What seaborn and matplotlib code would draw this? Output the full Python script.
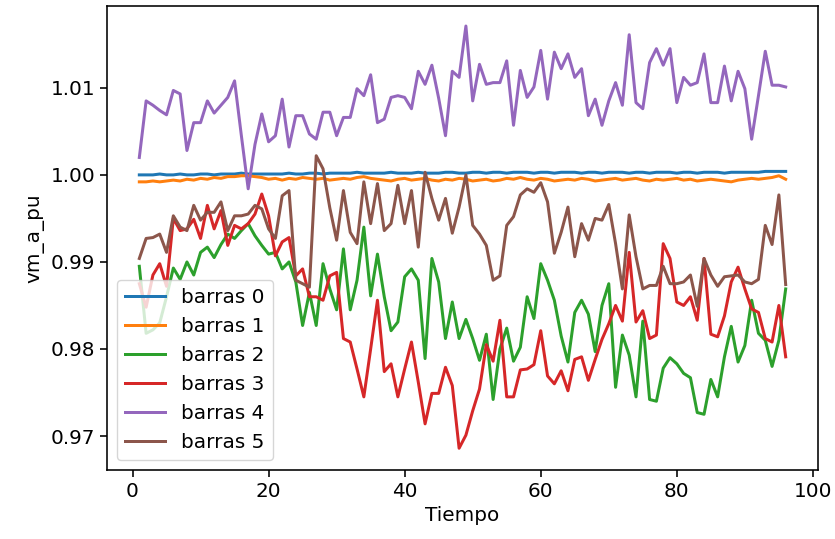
import numpy as np
import matplotlib
matplotlib.use("Agg")
import matplotlib.pyplot as plt
import seaborn as sns

tiempo = np.arange(1, 97)

barras_0 = [1.0000, 1.0000, 1.0000, 1.0001, 1.0000, 1.0000, 1.0001, 1.0000, 1.0000, 1.0001,
            1.0001, 1.0000, 1.0001, 1.0001, 1.0001, 1.0002, 1.0001, 1.0001, 1.0001, 1.0001,
            1.0001, 1.0001, 1.0002, 1.0001, 1.0001, 1.0002, 1.0002, 1.0001, 1.0002, 1.0002,
            1.0002, 1.0002, 1.0003, 1.0002, 1.0002, 1.0002, 1.0002, 1.0003, 1.0002, 1.0002,
            1.0002, 1.0003, 1.0002, 1.0002, 1.0002, 1.0003, 1.0003, 1.0002, 1.0002, 1.0003,
            1.0003, 1.0002, 1.0003, 1.0003, 1.0002, 1.0003, 1.0003, 1.0003, 1.0002, 1.0003,
            1.0003, 1.0002, 1.0003, 1.0003, 1.0003, 1.0002, 1.0003, 1.0003, 1.0002, 1.0003,
            1.0003, 1.0003, 1.0002, 1.0003, 1.0003, 1.0002, 1.0003, 1.0003, 1.0003, 1.0002,
            1.0003, 1.0003, 1.0002, 1.0003, 1.0003, 1.0003, 1.0002, 1.0003, 1.0003, 1.0003,
            1.0003, 1.0003, 1.0004, 1.0004, 1.0004, 1.0004]

barras_1 = [0.9992, 0.9992, 0.9993, 0.9992, 0.9993, 0.9994, 0.9993, 0.9995, 0.9994, 0.9996,
            0.9995, 0.9997, 0.9996, 0.9998, 0.9998, 0.9999, 0.9999, 0.9998, 0.9997, 0.9995,
            0.9996, 0.9994, 0.9996, 0.9995, 0.9997, 0.9996, 0.9995, 0.9996, 0.9994, 0.9995,
            0.9996, 0.9995, 0.9997, 0.9998, 0.9996, 0.9995, 0.9994, 0.9993, 0.9995, 0.9996,
            0.9994, 0.9995, 0.9996, 0.9994, 0.9993, 0.9995, 0.9994, 0.9996, 0.9995, 0.9993,
            0.9994, 0.9995, 0.9993, 0.9994, 0.9996, 0.9995, 0.9997, 0.9995, 0.9994, 0.9996,
            0.9995, 0.9993, 0.9994, 0.9995, 0.9994, 0.9996, 0.9995, 0.9993, 0.9994, 0.9995,
            0.9996, 0.9994, 0.9995, 0.9996, 0.9994, 0.9993, 0.9995, 0.9994, 0.9995, 0.9996,
            0.9994, 0.9995, 0.9993, 0.9994, 0.9995, 0.9994, 0.9993, 0.9992, 0.9994, 0.9995,
            0.9996, 0.9995, 0.9996, 0.9997, 0.9999, 0.9995]

barras_2 = [0.9895, 0.9818, 0.9822, 0.9830, 0.9860, 0.9893, 0.9880, 0.9900, 0.9885, 0.9911,
            0.9917, 0.9905, 0.9920, 0.9932, 0.9927, 0.9936, 0.9944, 0.9930, 0.9919, 0.9909,
            0.9911, 0.9892, 0.9900, 0.9877, 0.9827, 0.9865, 0.9827, 0.9898, 0.9869, 0.9845,
            0.9915, 0.9845, 0.9879, 0.9940, 0.9861, 0.9909, 0.9860, 0.9821, 0.9831, 0.9883,
            0.9892, 0.9879, 0.9789, 0.9904, 0.9877, 0.9812, 0.9854, 0.9812, 0.9834, 0.9812,
            0.9787, 0.9817, 0.9742, 0.9800, 0.9824, 0.9786, 0.9802, 0.9860, 0.9835, 0.9898,
            0.9879, 0.9856, 0.9815, 0.9785, 0.9842, 0.9856, 0.9840, 0.9797, 0.9850, 0.9875,
            0.9756, 0.9816, 0.9793, 0.9745, 0.9832, 0.9742, 0.9740, 0.9778, 0.9790, 0.9783,
            0.9772, 0.9767, 0.9727, 0.9725, 0.9765, 0.9745, 0.9791, 0.9826, 0.9785, 0.9804,
            0.9856, 0.9818, 0.9810, 0.9780, 0.9810, 0.9869]

barras_3 = [0.9875, 0.9848, 0.9885, 0.9898, 0.9872, 0.9950, 0.9936, 0.9938, 0.9949, 0.9927,
            0.9965, 0.9938, 0.9959, 0.9919, 0.9942, 0.9938, 0.9944, 0.9955, 0.9978, 0.9953,
            0.9907, 0.9923, 0.9928, 0.9884, 0.9892, 0.9860, 0.9860, 0.9856, 0.9884, 0.9888,
            0.9812, 0.9808, 0.9777, 0.9745, 0.9800, 0.9856, 0.9774, 0.9783, 0.9745, 0.9777,
            0.9808, 0.9762, 0.9714, 0.9749, 0.9749, 0.9779, 0.9758, 0.9686, 0.9701, 0.9729,
            0.9754, 0.9805, 0.9786, 0.9833, 0.9745, 0.9745, 0.9776, 0.9777, 0.9782, 0.9821,
            0.9769, 0.9760, 0.9775, 0.9752, 0.9788, 0.9791, 0.9764, 0.9788, 0.9811, 0.9829,
            0.9850, 0.9832, 0.9911, 0.9831, 0.9844, 0.9812, 0.9816, 0.9921, 0.9904, 0.9854,
            0.9850, 0.9860, 0.9833, 0.9904, 0.9817, 0.9814, 0.9838, 0.9877, 0.9894, 0.9869,
            0.9846, 0.9842, 0.9812, 0.9808, 0.9850, 0.9791]

barras_4 = [1.0020, 1.0085, 1.0080, 1.0074, 1.0069, 1.0097, 1.0093, 1.0028, 1.0060, 1.0060,
            1.0085, 1.0071, 1.0080, 1.0089, 1.0108, 1.0045, 0.9984, 1.0035, 1.0070, 1.0038,
            1.0045, 1.0087, 1.0032, 1.0068, 1.0068, 1.0047, 1.0041, 1.0072, 1.0072, 1.0045,
            1.0066, 1.0066, 1.0099, 1.0091, 1.0115, 1.0060, 1.0064, 1.0089, 1.0091, 1.0089,
            1.0076, 1.0119, 1.0104, 1.0126, 1.0088, 1.0045, 1.0119, 1.0112, 1.0171, 1.0085,
            1.0127, 1.0104, 1.0106, 1.0106, 1.0131, 1.0057, 1.0120, 1.0089, 1.0101, 1.0143,
            1.0087, 1.0141, 1.0122, 1.0139, 1.0112, 1.0122, 1.0068, 1.0087, 1.0057, 1.0085,
            1.0106, 1.0080, 1.0161, 1.0083, 1.0076, 1.0129, 1.0145, 1.0126, 1.0145, 1.0083,
            1.0112, 1.0103, 1.0106, 1.0139, 1.0083, 1.0083, 1.0125, 1.0085, 1.0119, 1.0099,
            1.0041, 1.0091, 1.0142, 1.0103, 1.0103, 1.0101]

barras_5 = [0.9904, 0.9927, 0.9928, 0.9932, 0.9911, 0.9953, 0.9940, 0.9936, 0.9965, 0.9948,
            0.9957, 0.9957, 0.9969, 0.9936, 0.9953, 0.9953, 0.9955, 0.9965, 0.9961, 0.9938,
            0.9927, 0.9976, 0.9982, 0.9879, 0.9875, 0.9871, 1.0022, 1.0007, 0.9962, 0.9925,
            0.9982, 0.9934, 0.9921, 0.9992, 0.9944, 0.9990, 0.9936, 0.9944, 0.9988, 0.9944,
            0.9982, 0.9917, 1.0003, 0.9973, 0.9948, 0.9973, 0.9933, 0.9963, 1.0000, 0.9942,
            0.9932, 0.9919, 0.9879, 0.9884, 0.9942, 0.9952, 0.9977, 0.9984, 0.9980, 0.9991,
            0.9969, 0.9910, 0.9934, 0.9963, 0.9906, 0.9944, 0.9925, 0.9950, 0.9948, 0.9966,
            0.9921, 0.9869, 0.9954, 0.9906, 0.9869, 0.9873, 0.9873, 0.9895, 0.9875, 0.9875,
            0.9877, 0.9885, 0.9849, 0.9904, 0.9885, 0.9872, 0.9883, 0.9884, 0.9885, 0.9877,
            0.9875, 0.9880, 0.9942, 0.9920, 0.9977, 0.9874]

series = [barras_0, barras_1, barras_2, barras_3, barras_4, barras_5]
labels = ["barras 0", "barras 1", "barras 2", "barras 3", "barras 4", "barras 5"]

# the picture is a default matplotlib figure scaled up ~1.44x
s = 1.44
plt.rcParams["font.size"] = 10 * s
plt.rcParams["axes.linewidth"] = 0.8 * s
plt.rcParams["xtick.major.size"] = 3.5 * s
plt.rcParams["ytick.major.size"] = 3.5 * s
plt.rcParams["xtick.major.width"] = 0.8 * s
plt.rcParams["ytick.major.width"] = 0.8 * s

colors = sns.color_palette("tab10", 6)

fig = plt.figure(figsize=(8.35, 5.39), dpi=100)
ax = fig.add_axes([107 / 835, 1 - 470 / 539, 711 / 835, 464 / 539])

for vals, lab, c in zip(series, labels, colors):
    sns.lineplot(x=tiempo, y=vals, label=lab, color=c, linewidth=1.5 * s, ax=ax)

ax.set_xlim(-3.75, 100.75)
ax.set_ylim(0.9661, 1.0194)
ax.set_xticks([0, 20, 40, 60, 80, 100])
ax.set_yticks([0.97, 0.98, 0.99, 1.00, 1.01])
ax.set_xlabel("Tiempo")
ax.set_ylabel("vm_a_pu")
ax.legend(loc="lower left")

fig.savefig("out.png", dpi=100)
